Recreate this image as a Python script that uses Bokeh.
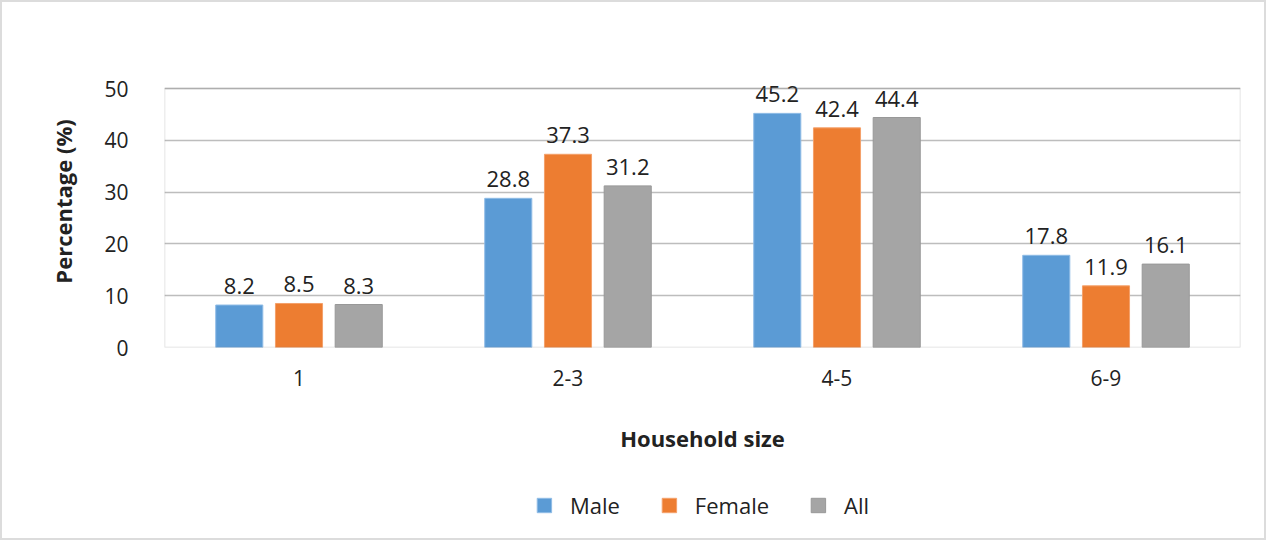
from bokeh.plotting import figure
from bokeh.layouts import column
from bokeh.models import ColumnDataSource, FactorRange, Range1d, Legend, LegendItem, LabelSet, BoxAnnotation
from bokeh.transform import dodge
from bokeh.core.properties import value
from bokeh.embed import file_html
from bokeh.resources import INLINE

categories = ["1", "2-3", "4-5", "6-9"]
male = [8.2, 28.8, 45.2, 17.8]
female = [8.5, 37.3, 42.4, 11.9]
all_ = [8.3, 31.2, 44.4, 16.1]
series_names = ["Male", "Female", "All"]
y_ticks = [0, 10, 20, 30, 40, 50]

FONT = "Open Sans"
colors = ["#5B9BD5", "#ED7D31", "#A5A5A5"]
edge = ["#8FBCE6", "#F4A06A", "#989898"]
offsets = [-0.222, 0.0, 0.222]

src = ColumnDataSource(dict(
    cat=categories, Male=male, Female=female, All=all_,
    Male_t=[f"{v:.1f}" for v in male],
    Female_t=[f"{v:.1f}" for v in female],
    All_t=[f"{v:.1f}" for v in all_],
))

# plot box covers 0..50 (259 px); frame extends 33 px above so value labels are not clipped
ymax = y_ticks[-1]
extra = ymax * 33 / 259
p = figure(width=1262, height=470,
           x_range=FactorRange(*categories, range_padding=0),
           y_range=Range1d(0, ymax + extra), output_backend="svg", toolbar_location=None,
           min_border_left=162, min_border_top=53, min_border_right=24, min_border_bottom=125)

for name, off, c, ec in zip(series_names, offsets, colors, edge):
    p.vbar(x=dodge("cat", off, range=p.x_range), top=name, width=0.175, source=src,
           fill_color=c, line_color=ec, line_width=1)
    lab = LabelSet(x=dodge("cat", off, range=p.x_range), y=name, text=name + "_t", source=src,
                   text_align="center", text_baseline="bottom", y_offset=11,
                   text_font=value(FONT), text_font_size="22px", text_color="#222222")
    p.add_layout(lab)

p.outline_line_color = None
p.add_layout(BoxAnnotation(bottom=0, top=ymax, fill_alpha=0, line_color="#8c8c8c",
                           line_width=1.5))
p.xgrid.grid_line_color = None
p.ygrid.grid_line_color = "#bdbdbd"
p.ygrid.grid_line_width = 1.5
p.yaxis.ticker = y_ticks
p.ygrid.ticker = y_ticks
for ax in (p.xaxis[0], p.yaxis[0]):
    ax.axis_line_color = None
    ax.major_tick_line_color = None
    ax.minor_tick_line_color = None
    ax.major_label_text_font = FONT
    ax.major_label_text_font_size = "21px"
    ax.major_label_text_color = "#222222"
    ax.axis_label_text_font = FONT
    ax.axis_label_text_font_size = "22px"
    ax.axis_label_text_font_style = "bold"
    ax.axis_label_text_color = "#222222"
p.yaxis.major_label_standoff = 30
p.yaxis.axis_label = "Percentage (%)"
p.yaxis.axis_label_standoff = 23
p.xaxis.major_label_standoff = 16
p.xaxis.axis_label = "Household size"
p.xaxis.axis_label_standoff = 34

# legend strip: same series drawn on a range where the bars lie out of view
leg = figure(width=1262, height=66, x_range=FactorRange(*categories, range_padding=0),
             y_range=Range1d(ymax * 2, ymax * 3), output_backend="svg", toolbar_location=None,
             x_axis_location=None, y_axis_location=None,
             min_border_left=162, min_border_right=24, min_border_top=0, min_border_bottom=0)
leg.outline_line_color = None
leg.xgrid.grid_line_color = None
leg.ygrid.grid_line_color = None
items = []
for name, off, c, ec in zip(series_names, offsets, colors, edge):
    r = leg.vbar(x=dodge("cat", off, range=leg.x_range), top=name, width=0.175, source=src,
                 fill_color=c, line_color=ec, line_width=1)
    items.append(LegendItem(label=name, renderers=[r]))
legend = Legend(items=items, orientation="horizontal", location="center",
                label_text_font=FONT, label_text_font_size="22px", label_text_color="#222222",
                glyph_width=18, glyph_height=18, label_standoff=17, spacing=40,
                border_line_color=None, background_fill_alpha=0, margin=0, padding=0)
leg.add_layout(legend, "center")

layout = column(p, leg, spacing=0, styles={"border": "2px solid #dcdcdc"})

open("out.html", "w").write(file_html(layout, INLINE))
